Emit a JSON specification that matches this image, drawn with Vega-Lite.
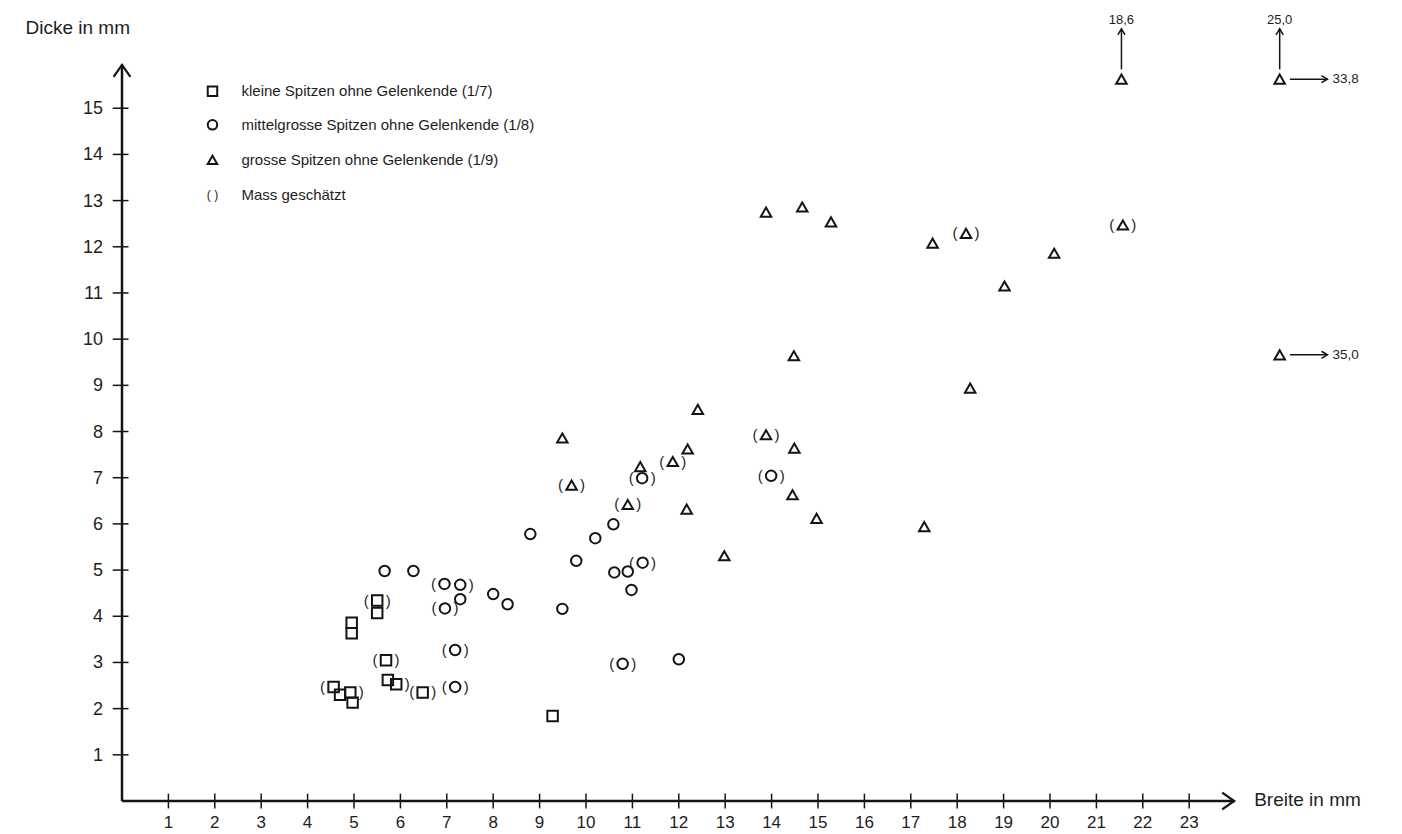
{
  "$schema": "https://vega.github.io/schema/vega-lite/v6.json",
  "width": 1276,
  "height": 799,
  "autosize": {"type": "none"},
  "padding": {"left": 122, "top": 2, "right": 4, "bottom": 33},
  "background": "white",
  "config": {"view": {"stroke": null}, "font": "Liberation Sans"},
  "datasets": {
    "punkte": [
      {"breite": 5.5, "dicke": 4.34, "groesse": "klein", "est": "()"},
      {"breite": 5.5, "dicke": 4.07, "groesse": "klein", "est": ""},
      {"breite": 4.95, "dicke": 3.86, "groesse": "klein", "est": ""},
      {"breite": 4.95, "dicke": 3.63, "groesse": "klein", "est": ""},
      {"breite": 5.69, "dicke": 3.05, "groesse": "klein", "est": "()"},
      {"breite": 4.56, "dicke": 2.47, "groesse": "klein", "est": "("},
      {"breite": 4.7, "dicke": 2.3, "groesse": "klein", "est": ""},
      {"breite": 4.92, "dicke": 2.35, "groesse": "klein", "est": ")"},
      {"breite": 4.97, "dicke": 2.13, "groesse": "klein", "est": ""},
      {"breite": 5.73, "dicke": 2.62, "groesse": "klein", "est": ""},
      {"breite": 5.91, "dicke": 2.53, "groesse": "klein", "est": ")"},
      {"breite": 6.48, "dicke": 2.35, "groesse": "klein", "est": "()"},
      {"breite": 9.28, "dicke": 1.84, "groesse": "klein", "est": ""},
      {"breite": 6.95, "dicke": 4.7, "groesse": "mittel", "est": "("},
      {"breite": 7.29, "dicke": 4.68, "groesse": "mittel", "est": ")"},
      {"breite": 7.29, "dicke": 4.37, "groesse": "mittel", "est": ""},
      {"breite": 6.96, "dicke": 4.17, "groesse": "mittel", "est": "()"},
      {"breite": 8.0, "dicke": 4.48, "groesse": "mittel", "est": ""},
      {"breite": 8.31, "dicke": 4.26, "groesse": "mittel", "est": ""},
      {"breite": 9.49, "dicke": 4.16, "groesse": "mittel", "est": ""},
      {"breite": 7.18, "dicke": 3.27, "groesse": "mittel", "est": "()"},
      {"breite": 7.18, "dicke": 2.47, "groesse": "mittel", "est": "()"},
      {"breite": 10.79, "dicke": 2.97, "groesse": "mittel", "est": "()"},
      {"breite": 12.0, "dicke": 3.07, "groesse": "mittel", "est": ""},
      {"breite": 10.61, "dicke": 4.95, "groesse": "mittel", "est": ""},
      {"breite": 10.9, "dicke": 4.97, "groesse": "mittel", "est": ""},
      {"breite": 11.22, "dicke": 5.16, "groesse": "mittel", "est": "()"},
      {"breite": 10.98, "dicke": 4.57, "groesse": "mittel", "est": ""},
      {"breite": 10.59, "dicke": 5.99, "groesse": "mittel", "est": ""},
      {"breite": 10.2, "dicke": 5.69, "groesse": "mittel", "est": ""},
      {"breite": 9.79, "dicke": 5.2, "groesse": "mittel", "est": ""},
      {"breite": 8.8, "dicke": 5.78, "groesse": "mittel", "est": ""},
      {"breite": 5.66, "dicke": 4.98, "groesse": "mittel", "est": ""},
      {"breite": 6.28, "dicke": 4.98, "groesse": "mittel", "est": ""},
      {"breite": 11.21, "dicke": 6.99, "groesse": "mittel", "est": "()"},
      {"breite": 13.99, "dicke": 7.04, "groesse": "mittel", "est": "()"},
      {"breite": 12.41, "dicke": 8.48, "groesse": "gross", "est": ""},
      {"breite": 13.88, "dicke": 7.93, "groesse": "gross", "est": "()"},
      {"breite": 14.49, "dicke": 7.64, "groesse": "gross", "est": ""},
      {"breite": 12.19, "dicke": 7.62, "groesse": "gross", "est": ""},
      {"breite": 11.87, "dicke": 7.35, "groesse": "gross", "est": "()"},
      {"breite": 11.17, "dicke": 7.24, "groesse": "gross", "est": ""},
      {"breite": 14.45, "dicke": 6.63, "groesse": "gross", "est": ""},
      {"breite": 10.9, "dicke": 6.42, "groesse": "gross", "est": "()"},
      {"breite": 12.17, "dicke": 6.32, "groesse": "gross", "est": ""},
      {"breite": 14.97, "dicke": 6.12, "groesse": "gross", "est": ""},
      {"breite": 17.29, "dicke": 5.94, "groesse": "gross", "est": ""},
      {"breite": 12.98, "dicke": 5.31, "groesse": "gross", "est": ""},
      {"breite": 9.49, "dicke": 7.86, "groesse": "gross", "est": ""},
      {"breite": 9.69, "dicke": 6.84, "groesse": "gross", "est": "()"},
      {"breite": 13.88, "dicke": 12.75, "groesse": "gross", "est": ""},
      {"breite": 14.66, "dicke": 12.86, "groesse": "gross", "est": ""},
      {"breite": 15.28, "dicke": 12.54, "groesse": "gross", "est": ""},
      {"breite": 17.47, "dicke": 12.08, "groesse": "gross", "est": ""},
      {"breite": 18.19, "dicke": 12.29, "groesse": "gross", "est": "()"},
      {"breite": 20.09, "dicke": 11.86, "groesse": "gross", "est": ""},
      {"breite": 21.57, "dicke": 12.47, "groesse": "gross", "est": "()"},
      {"breite": 19.02, "dicke": 11.15, "groesse": "gross", "est": ""},
      {"breite": 14.48, "dicke": 9.64, "groesse": "gross", "est": ""},
      {"breite": 18.28, "dicke": 8.94, "groesse": "gross", "est": ""},
      {"breite": 21.54, "dicke": 15.63, "groesse": "gross", "est": ""},
      {"breite": 24.95, "dicke": 15.63, "groesse": "gross", "est": ""},
      {"breite": 24.95, "dicke": 9.66, "groesse": "gross", "est": ""}
    ],
    "achsen": [
      {"breite": 0, "dicke": 0, "breite2": 23.97, "dicke2": 0, "richtung": "rechts"},
      {"breite": 0, "dicke": 0, "breite2": 0, "dicke2": 15.94, "richtung": "oben"}
    ],
    "pfeile": [
      {"breite": 21.54, "dicke": 15.84, "breite2": 21.54, "dicke2": 16.72, "richtung": "oben", "wert": "18,6"},
      {"breite": 24.95, "dicke": 15.84, "breite2": 24.95, "dicke2": 16.72, "richtung": "oben", "wert": "25,0"},
      {"breite": 25.17, "dicke": 15.63, "breite2": 25.98, "dicke2": 15.63, "richtung": "rechts", "wert": "33,8"},
      {"breite": 25.17, "dicke": 9.66, "breite2": 25.98, "dicke2": 9.66, "richtung": "rechts", "wert": "35,0"}
    ],
    "xticks": [
      {"breite": 1}, {"breite": 2}, {"breite": 3}, {"breite": 4}, {"breite": 5}, {"breite": 6},
      {"breite": 7}, {"breite": 8}, {"breite": 9}, {"breite": 10}, {"breite": 11}, {"breite": 12},
      {"breite": 13}, {"breite": 14}, {"breite": 15}, {"breite": 16}, {"breite": 17}, {"breite": 18},
      {"breite": 19}, {"breite": 20}, {"breite": 21}, {"breite": 22}, {"breite": 23}
    ],
    "yticks": [
      {"dicke": 1}, {"dicke": 2}, {"dicke": 3}, {"dicke": 4}, {"dicke": 5}, {"dicke": 6},
      {"dicke": 7}, {"dicke": 8}, {"dicke": 9}, {"dicke": 10}, {"dicke": 11}, {"dicke": 12},
      {"dicke": 13}, {"dicke": 14}, {"dicke": 15}
    ],
    "legende": [
      {"breite": 1.95, "dicke": 15.37, "groesse": "klein", "zeichen": "", "text": "kleine Spitzen ohne Gelenkende (1/7)"},
      {"breite": 1.95, "dicke": 14.64, "groesse": "mittel", "zeichen": "", "text": "mittelgrosse Spitzen ohne Gelenkende (1/8)"},
      {"breite": 1.95, "dicke": 13.88, "groesse": "gross", "zeichen": "", "text": "grosse Spitzen ohne Gelenkende (1/9)"},
      {"breite": 1.95, "dicke": 13.12, "groesse": "", "zeichen": "( )", "text": "Mass  geschätzt"}
    ],
    "titel": [
      {"breite": -2.08, "dicke": 16.74, "text": "Dicke  in mm"},
      {"breite": 24.4, "dicke": 0.02, "text": "Breite in  mm"}
    ]
  },
  "layer": [
    {
      "data": {"name": "punkte"},
      "mark": {"type": "point", "filled": false, "color": "#141414", "strokeWidth": 2, "size": 110, "opacity": 1},
      "encoding": {
        "x": {"field": "breite", "type": "quantitative", "scale": {"domain": [0, 27.5], "nice": false, "zero": false}, "axis": null},
        "y": {"field": "dicke", "type": "quantitative", "scale": {"domain": [0, 17.3], "nice": false, "zero": false}, "axis": null},
        "shape": {
          "field": "groesse", "type": "nominal",
          "scale": {"domain": ["klein", "mittel", "gross"], "range": ["square", "circle", "triangle-up"]},
          "legend": null
        }
      }
    },
    {
      "data": {"name": "achsen"},
      "mark": {"type": "rule", "color": "#141414", "strokeWidth": 2.5},
      "encoding": {
        "x": {"field": "breite", "type": "quantitative", "axis": null},
        "y": {"field": "dicke", "type": "quantitative", "axis": null},
        "x2": {"field": "breite2"},
        "y2": {"field": "dicke2"}
      }
    },
    {
      "data": {"name": "achsen"},
      "transform": [{"filter": "datum.richtung == 'rechts'"}],
      "mark": {"type": "point", "shape": "M-1,-0.7L0,0L-1,0.7", "filled": false, "color": "#141414", "strokeWidth": 2.2, "size": 576, "opacity": 1},
      "encoding": {
        "x": {"field": "breite2", "type": "quantitative", "axis": null},
        "y": {"field": "dicke2", "type": "quantitative", "axis": null}
      }
    },
    {
      "data": {"name": "achsen"},
      "transform": [{"filter": "datum.richtung == 'oben'"}],
      "mark": {"type": "point", "shape": "M-0.7,1L0,0L0.7,1", "filled": false, "color": "#141414", "strokeWidth": 2.2, "size": 576, "opacity": 1},
      "encoding": {
        "x": {"field": "breite2", "type": "quantitative", "axis": null},
        "y": {"field": "dicke2", "type": "quantitative", "axis": null}
      }
    },
    {
      "data": {"name": "xticks"},
      "mark": {"type": "rule", "color": "#141414", "strokeWidth": 1.5},
      "encoding": {
        "x": {"field": "breite", "type": "quantitative", "axis": null},
        "y": {"datum": -0.16, "type": "quantitative", "axis": null},
        "y2": {"datum": 0.16}
      }
    },
    {
      "data": {"name": "xticks"},
      "mark": {"type": "text", "fontSize": 17, "color": "#1e1e1e", "align": "center", "baseline": "middle", "dy": 22},
      "encoding": {
        "x": {"field": "breite", "type": "quantitative", "axis": null},
        "y": {"datum": 0, "type": "quantitative", "axis": null},
        "text": {"field": "breite", "type": "quantitative"}
      }
    },
    {
      "data": {"name": "yticks"},
      "mark": {"type": "rule", "color": "#141414", "strokeWidth": 1.5},
      "encoding": {
        "y": {"field": "dicke", "type": "quantitative", "axis": null},
        "x": {"datum": -0.2, "type": "quantitative", "axis": null},
        "x2": {"datum": 0.14}
      }
    },
    {
      "data": {"name": "yticks"},
      "mark": {"type": "text", "fontSize": 18, "color": "#1e1e1e", "align": "right", "baseline": "middle", "dx": -19, "dy": 1},
      "encoding": {
        "y": {"field": "dicke", "type": "quantitative", "axis": null},
        "x": {"datum": 0, "type": "quantitative", "axis": null},
        "text": {"field": "dicke", "type": "quantitative"}
      }
    },
    {
      "data": {"name": "punkte"},
      "transform": [{"filter": "indexof(datum.est, '(') >= 0"}],
      "mark": {"type": "text", "text": "(", "dx": -11, "fontSize": 15, "color": "#1e1e1e", "align": "center", "baseline": "middle"},
      "encoding": {
        "x": {"field": "breite", "type": "quantitative", "axis": null},
        "y": {"field": "dicke", "type": "quantitative", "axis": null}
      }
    },
    {
      "data": {"name": "punkte"},
      "transform": [{"filter": "indexof(datum.est, ')') >= 0"}],
      "mark": {"type": "text", "text": ")", "dx": 11, "fontSize": 15, "color": "#1e1e1e", "align": "center", "baseline": "middle"},
      "encoding": {
        "x": {"field": "breite", "type": "quantitative", "axis": null},
        "y": {"field": "dicke", "type": "quantitative", "axis": null}
      }
    },
    {
      "data": {"name": "pfeile"},
      "mark": {"type": "rule", "color": "#141414", "strokeWidth": 1.5},
      "encoding": {
        "x": {"field": "breite", "type": "quantitative", "axis": null},
        "y": {"field": "dicke", "type": "quantitative", "axis": null},
        "x2": {"field": "breite2"},
        "y2": {"field": "dicke2"}
      }
    },
    {
      "data": {"name": "pfeile"},
      "transform": [{"filter": "datum.richtung == 'rechts'"}],
      "mark": {"type": "point", "shape": "M-1,-0.6L0,0L-1,0.6", "filled": false, "color": "#141414", "strokeWidth": 1.5, "size": 144, "opacity": 1},
      "encoding": {
        "x": {"field": "breite2", "type": "quantitative", "axis": null},
        "y": {"field": "dicke2", "type": "quantitative", "axis": null}
      }
    },
    {
      "data": {"name": "pfeile"},
      "transform": [{"filter": "datum.richtung == 'oben'"}],
      "mark": {"type": "point", "shape": "M-0.6,1L0,0L0.6,1", "filled": false, "color": "#141414", "strokeWidth": 1.5, "size": 144, "opacity": 1},
      "encoding": {
        "x": {"field": "breite2", "type": "quantitative", "axis": null},
        "y": {"field": "dicke2", "type": "quantitative", "axis": null}
      }
    },
    {
      "data": {"name": "pfeile"},
      "transform": [{"filter": "datum.richtung == 'oben'"}],
      "mark": {"type": "text", "fontSize": 13, "color": "#1e1e1e", "align": "center", "baseline": "middle", "dy": -9},
      "encoding": {
        "x": {"field": "breite2", "type": "quantitative", "axis": null},
        "y": {"field": "dicke2", "type": "quantitative", "axis": null},
        "text": {"field": "wert"}
      }
    },
    {
      "data": {"name": "pfeile"},
      "transform": [{"filter": "datum.richtung == 'rechts'"}],
      "mark": {"type": "text", "fontSize": 13.5, "color": "#1e1e1e", "align": "left", "baseline": "middle", "dx": 5},
      "encoding": {
        "x": {"field": "breite2", "type": "quantitative", "axis": null},
        "y": {"field": "dicke2", "type": "quantitative", "axis": null},
        "text": {"field": "wert"}
      }
    },
    {
      "data": {"name": "legende"},
      "transform": [{"filter": "datum.groesse != ''"}],
      "mark": {"type": "point", "filled": false, "color": "#141414", "strokeWidth": 2, "size": 90, "opacity": 1},
      "encoding": {
        "x": {"field": "breite", "type": "quantitative", "axis": null},
        "y": {"field": "dicke", "type": "quantitative", "axis": null},
        "shape": {
          "field": "groesse", "type": "nominal",
          "scale": {"domain": ["klein", "mittel", "gross"], "range": ["square", "circle", "triangle-up"]},
          "legend": null
        }
      }
    },
    {
      "data": {"name": "legende"},
      "mark": {"type": "text", "fontSize": 12, "color": "#1e1e1e", "align": "center", "baseline": "middle"},
      "encoding": {
        "x": {"field": "breite", "type": "quantitative", "axis": null},
        "y": {"field": "dicke", "type": "quantitative", "axis": null},
        "text": {"field": "zeichen"}
      }
    },
    {
      "data": {"name": "legende"},
      "mark": {"type": "text", "fontSize": 15, "color": "#1e1e1e", "align": "left", "baseline": "middle", "dx": 29},
      "encoding": {
        "x": {"field": "breite", "type": "quantitative", "axis": null},
        "y": {"field": "dicke", "type": "quantitative", "axis": null},
        "text": {"field": "text"}
      }
    },
    {
      "data": {"name": "titel"},
      "mark": {"type": "text", "fontSize": 19, "color": "#1e1e1e", "align": "left", "baseline": "middle"},
      "encoding": {
        "x": {"field": "breite", "type": "quantitative", "axis": null},
        "y": {"field": "dicke", "type": "quantitative", "axis": null},
        "text": {"field": "text"}
      }
    }
  ]
}
